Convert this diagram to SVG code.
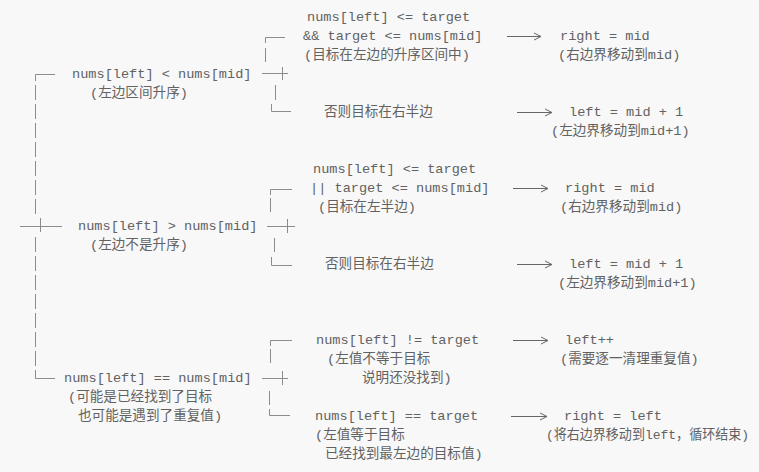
<svg xmlns="http://www.w3.org/2000/svg" width="759" height="472" viewBox="0 0 759 472">
<style>
text{font-family:"Liberation Mono","Noto Sans CJK SC",monospace;font-size:13.6px;fill:#626262;white-space:pre}
.bx{stroke:#8c8c8c;stroke-width:1;fill:none}
.ar{stroke:#666;stroke-width:1;fill:none}
</style>
<rect width="759" height="472" fill="#f8f8f8"/>
<g id="connectors">
  <path class="bx" d="M35.5 74.5H55M35.5 74.5V81"/>
  <path class="bx" d="M35.5 85V100M35.5 104V119M35.5 123V138M35.5 142V157M35.5 161V176M35.5 180V195M35.5 199V214"/>
  <path class="bx" d="M20 226.5H62M40.5 218V232"/>
  <path class="bx" d="M35.5 237V252M35.5 256V271M35.5 275V290M35.5 294V309M35.5 313V328M35.5 332V347M35.5 351V366"/>
  <path class="bx" d="M35.5 370V378.5H55"/>
  <path class="bx" d="M262 73.5H288M282.5 67V80"/>
  <path class="bx" d="M265.5 37.5H285M265.5 37.5V43M265.5 48V62"/>
  <path class="bx" d="M275.5 85V100"/>
  <path class="bx" d="M271.5 104V111.5H291"/>
  <path class="bx" d="M267 226.5H295M287.5 219V233"/>
  <path class="bx" d="M270.5 189.5H292M270.5 189.5V195M270.5 198V212"/>
  <path class="bx" d="M274.5 238V252"/>
  <path class="bx" d="M271.5 257V265.5H292"/>
  <path class="bx" d="M262 378.5H288M282.5 371V385"/>
  <path class="bx" d="M270.5 340.5H292M270.5 340.5V346M270.5 349V363"/>
  <path class="bx" d="M269.5 391V405"/>
  <path class="bx" d="M269.5 409V415.5H290"/>
  <path class="ar" d="M507 36.5H540M534 33L541 36.5L534 40"/>
  <path class="ar" d="M517 112.5H551M545 109L552 112.5L545 116"/>
  <path class="ar" d="M513 188.5H547M541 185L548 188.5L541 192"/>
  <path class="ar" d="M517 264.5H551M545 261L552 264.5L545 268"/>
  <path class="ar" d="M513 340.5H547M541 337L548 340.5L541 344"/>
  <path class="ar" d="M511 416.5H546M540 413L547 416.5L540 420"/>
</g>
<g id="n-left-asc">
  <text x="72" y="78">nums[left] &lt; nums[mid]</text>
  <text x="90" y="97">(左边区间升序)</text>
</g>
<g id="n-asc-target-left">
  <text x="307" y="21">nums[left] &lt;= target</text>
  <text x="303" y="40">&amp;&amp; target &lt;= nums[mid]</text>
  <text x="304" y="59">(目标在左边的升序区间中)</text>
</g>
<g id="r-right-mid-1">
  <text x="560" y="40">right = mid</text>
  <text x="558" y="59">(右边界移动到mid)</text>
</g>
<g id="n-asc-else">
  <text x="324" y="116">否则目标在右半边</text>
</g>
<g id="r-left-mid1-1">
  <text x="569" y="116">left = mid + 1</text>
  <text x="551" y="135">(左边界移动到mid+1)</text>
</g>
<g id="n-left-desc">
  <text x="78" y="230">nums[left] &gt; nums[mid]</text>
  <text x="90" y="249">(左边不是升序)</text>
</g>
<g id="n-desc-target-left">
  <text x="313" y="173">nums[left] &lt;= target</text>
  <text x="310" y="192">|| target &lt;= nums[mid]</text>
  <text x="318" y="211">(目标在左半边)</text>
</g>
<g id="r-right-mid-2">
  <text x="565" y="192">right = mid</text>
  <text x="560" y="211">(右边界移动到mid)</text>
</g>
<g id="n-desc-else">
  <text x="325" y="268">否则目标在右半边</text>
</g>
<g id="r-left-mid1-2">
  <text x="569" y="268">left = mid + 1</text>
  <text x="558" y="287">(左边界移动到mid+1)</text>
</g>
<g id="n-equal">
  <text x="64" y="382">nums[left] == nums[mid]</text>
  <text x="68" y="401">(可能是已经找到了目标</text>
  <text x="78" y="420">也可能是遇到了重复值)</text>
</g>
<g id="n-ne-target">
  <text x="316" y="344">nums[left] != target</text>
  <text x="327" y="363">(左值不等于目标</text>
  <text x="362" y="382">说明还没找到)</text>
</g>
<g id="r-left-pp">
  <text x="565" y="344">left++</text>
  <text x="560" y="363">(需要逐一清理重复值)</text>
</g>
<g id="n-eq-target">
  <text x="315" y="420">nums[left] == target</text>
  <text x="315" y="439">(左值等于目标</text>
  <text x="325" y="458">已经找到最左边的目标值)</text>
</g>
<g id="r-right-left">
  <text x="546" y="439" font-size="13" textLength="203" lengthAdjust="spacingAndGlyphs">(将右边界移动到left，循环结束)</text>
  <text x="564" y="420">right = left</text>
</g>
</svg>
